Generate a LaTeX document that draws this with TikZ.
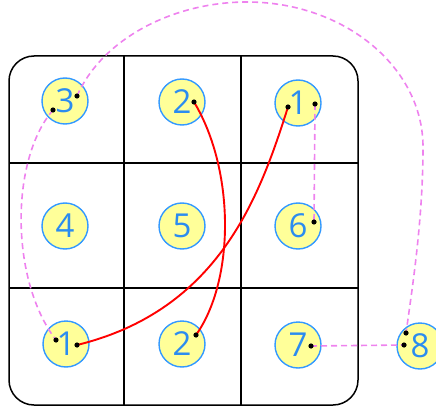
\documentclass[tikz,border=0pt]{standalone}
\usepackage{fontspec}
\setsansfont{Open Sans}
\usepackage{tikz}
\usetikzlibrary{positioning}
\definecolor{ringblue}{HTML}{3399FF}
\definecolor{digitblue}{HTML}{2B8CF0}
\definecolor{padyellow}{HTML}{FFFF99}
\definecolor{linkpink}{HTML}{EE82EE}
\tikzset{
    cell/.style={circle, draw=ringblue, fill=padyellow, line width=1.4pt, minimum size=46pt, inner sep=0pt, text=digitblue, font=\sffamily\fontsize{33}{36}\selectfont},
    frame/.style={draw, line width=1.5pt},
    swap/.style={draw=red, line width=1.9pt},
    hop/.style={draw=linkpink, line width=1.6pt, dash pattern=on 6pt off 4pt},
}

\begin{document}
\begin{tikzpicture}[x=1pt, y=-1pt]
        \useasboundingbox (0,0) rectangle (436,409);
        \clip (0,0) rectangle (436,409);

        % board
        \draw[frame, rounded corners=25pt] (9,56) rectangle (358,405);
        \foreach \x in {124,241}
            \draw[frame] (\x,56) -- (\x,405);
        \foreach \y in {163,288}
            \draw[frame] (9,\y) -- (358,\y);

        % tiles
        \foreach \name/\label/\x/\y in {c3/3/65/101, c2t/2/182/102, c1t/1/298/103,
                                        c4/4/65/226, c5/5/182/226, c6/6/298/226,
                                        c1b/1/66/344, c2b/2/182/344, c7/7/298/345, c8/8/420/346}
            \node[cell] (\name) at (\x,\y) {\label};

        % ports
        \foreach \name/\x/\y in {p3a/77/96, p3b/53/110, p2t/194/102, p1ta/288/107, p1tb/315/104,
                                 p6/314/222, p1ba/56/340, p1bb/77/345, p2b/196/335,
                                 p7/311/346, p8a/406/333, p8b/404/345}
            \coordinate (\name) at (\x,\y);

        \draw[swap] (p2t) .. controls (235,170) and (235,280) .. (p2b);
        \draw[swap] (p1bb) .. controls (220,310) and (260,195) .. (p1ta);
        \draw[hop] (p1tb) -- (p6);
        \draw[hop] (p7) -- (p8b);
        \draw[hop] (p3b) .. controls (10,160) and (10,280) .. (p1ba);
        \draw[hop] (p3a) .. controls (102,39) and (173,2) .. (247,2)
                         .. controls (344,2) and (423,67) .. (423,147)
                         .. controls (423,220) and (412,290) .. (p8a);

        \foreach \name in {p3a, p3b, p2t, p1ta, p1tb, p6, p1ba, p1bb, p2b, p7, p8a, p8b}
            \fill (\name) circle (2.6pt);
    \end{tikzpicture}
\end{document}
